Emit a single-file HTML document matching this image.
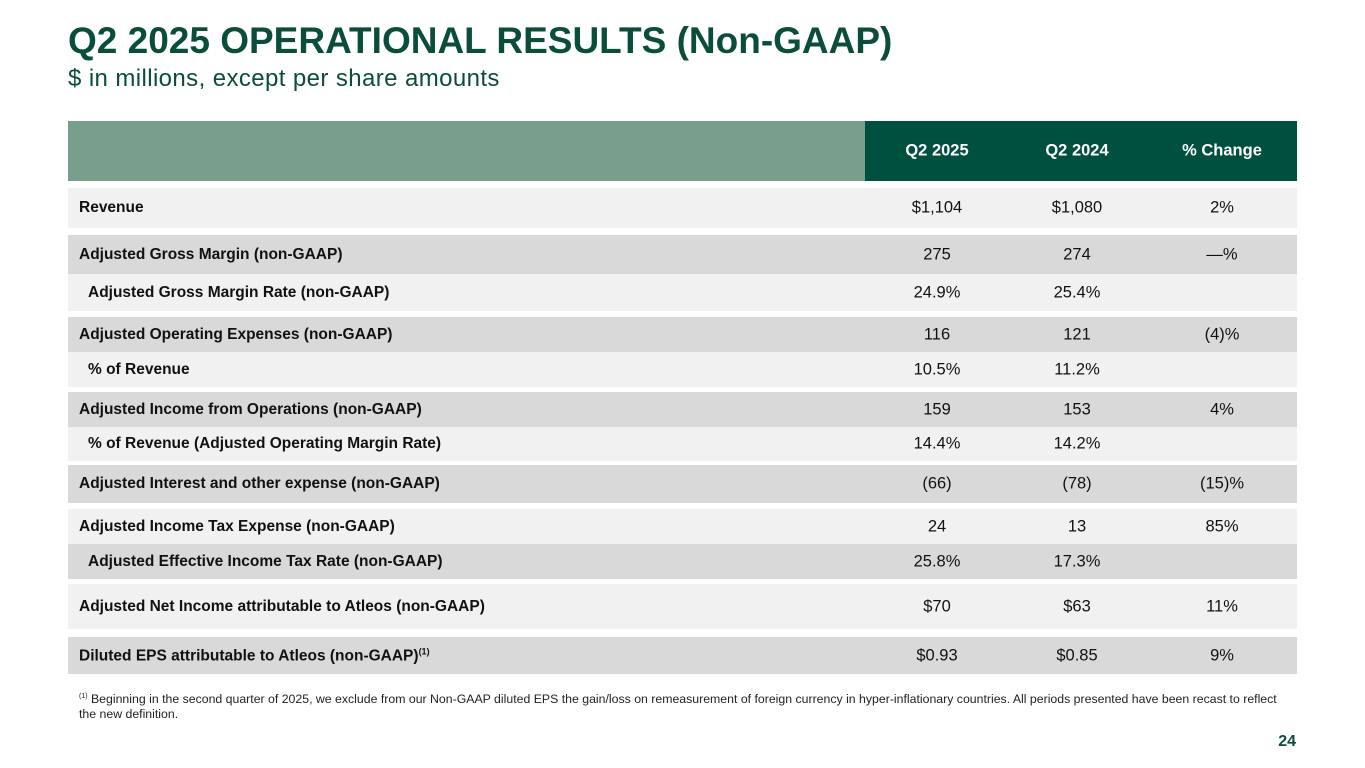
<!DOCTYPE html>
<html><head><meta charset="utf-8"><style>
body{margin:0;width:1365px;height:768px;background:#fff;position:relative;overflow:hidden;font-family:"Liberation Sans",sans-serif;}
.t{position:absolute;left:68px;top:20px;font-size:37px;font-weight:bold;color:#0b4d3b;letter-spacing:0px;white-space:nowrap}
.s{position:absolute;left:68px;top:65px;font-size:24px;color:#0b4d3b;letter-spacing:0.4px;white-space:nowrap}
.r{position:absolute;left:68px;width:1229px;font-size:15.5px;font-weight:bold;color:#111}
.r span{position:absolute;top:50%;transform:translateY(-50%);white-space:nowrap}
.l{left:11px}.i{left:20px}
.v{font-weight:normal;font-size:16.5px;transform:translate(-50%,-50%)!important}
.a{left:869px}.b{left:1009px}.c{left:1154px}
.L{background:#f1f1f1}.G{background:#d9d9d9}
.hd{position:absolute;top:121px;height:60px;color:#fff;font-weight:bold;font-size:16.5px}
.hd span{position:absolute;top:50%;transform:translate(-50%,-50%);white-space:nowrap}
</style></head><body>
<div class="t">Q2 2025 OPERATIONAL RESULTS (Non-GAAP)</div>
<div class="s">$ in millions, except per share amounts</div>
<div class="hd" style="left:68px;width:797px;background:#789f8e"></div>
<div class="hd" style="left:865px;width:432px;background:#00503f">
<span style="left:72px">Q2 2025</span><span style="left:212px">Q2 2024</span><span style="left:357px">% Change</span></div>

<div class="r L" style="top:188px;height:40px"><span class="l">Revenue</span><span class="v a">$1,104</span><span class="v b">$1,080</span><span class="v c">2%</span></div>
<div class="r G" style="top:235px;height:39px"><span class="l">Adjusted Gross Margin (non-GAAP)</span><span class="v a">275</span><span class="v b">274</span><span class="v c">—%</span></div>
<div class="r L" style="top:274px;height:37px"><span class="i">Adjusted Gross Margin Rate (non-GAAP)</span><span class="v a">24.9%</span><span class="v b">25.4%</span></div>
<div class="r G" style="top:317px;height:35px"><span class="l">Adjusted Operating Expenses (non-GAAP)</span><span class="v a">116</span><span class="v b">121</span><span class="v c">(4)%</span></div>
<div class="r L" style="top:352px;height:35px"><span class="i">% of Revenue</span><span class="v a">10.5%</span><span class="v b">11.2%</span></div>
<div class="r G" style="top:392px;height:35px"><span class="l">Adjusted Income from Operations (non-GAAP)</span><span class="v a">159</span><span class="v b">153</span><span class="v c">4%</span></div>
<div class="r L" style="top:427px;height:34px"><span class="i">% of Revenue (Adjusted Operating Margin Rate)</span><span class="v a">14.4%</span><span class="v b">14.2%</span></div>
<div class="r G" style="top:465px;height:38px"><span class="l">Adjusted Interest and other expense (non-GAAP)</span><span class="v a">(66)</span><span class="v b">(78)</span><span class="v c">(15)%</span></div>
<div class="r L" style="top:509px;height:35px"><span class="l">Adjusted Income Tax Expense (non-GAAP)</span><span class="v a">24</span><span class="v b">13</span><span class="v c">85%</span></div>
<div class="r G" style="top:544px;height:35px"><span class="i">Adjusted Effective Income Tax Rate (non-GAAP)</span><span class="v a">25.8%</span><span class="v b">17.3%</span></div>
<div class="r L" style="top:584px;height:45px"><span class="l">Adjusted Net Income attributable to Atleos (non-GAAP)</span><span class="v a">$70</span><span class="v b">$63</span><span class="v c">11%</span></div>
<div class="r G" style="top:637px;height:37px"><span class="l">Diluted EPS attributable to Atleos (non-GAAP)<sup style="font-size:9px">(1)</sup></span><span class="v a">$0.93</span><span class="v b">$0.85</span><span class="v c">9%</span></div>

<div style="position:absolute;left:79px;top:689px;width:1215px;font-size:12.3px;line-height:15px;color:#222"><sup style="font-size:7px">(1)</sup> Beginning in the second quarter of 2025, we exclude from our Non-GAAP diluted EPS the gain/loss on remeasurement of foreign currency in hyper-inflationary countries. All periods presented have been recast to reflect the new definition.</div>
<div style="position:absolute;right:69px;top:733px;font-size:16px;font-weight:bold;color:#0b4d3b">24</div>
</body></html>
